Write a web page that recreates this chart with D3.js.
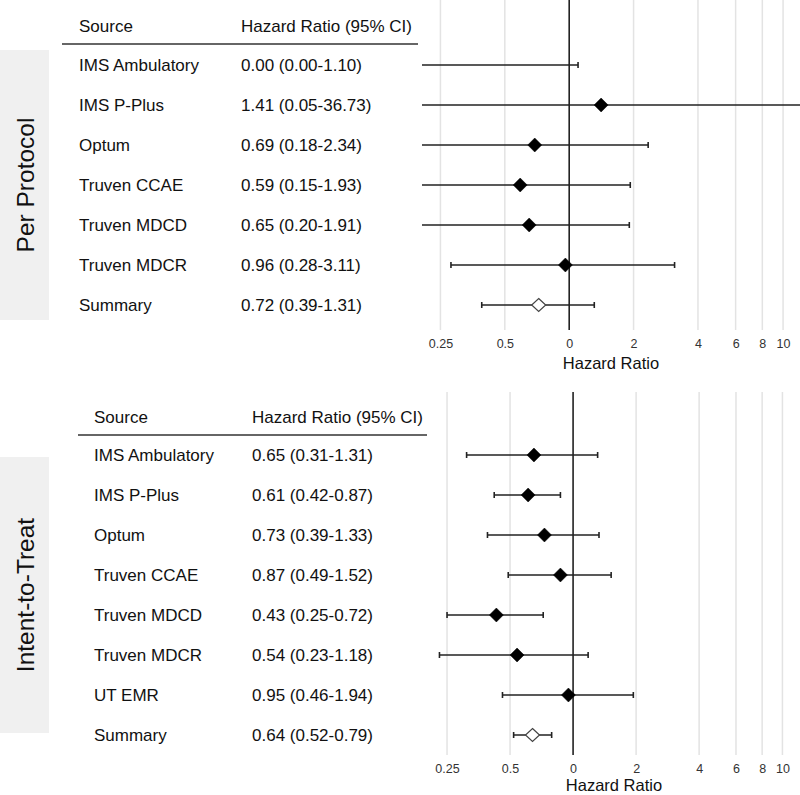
<!DOCTYPE html>
<html>
<head>
<meta charset="utf-8">
<script src="https://cdn.jsdelivr.net/npm/d3@7"></script>
<style>
  body { margin: 0; background: #fff; }
  svg { display: block; font-family: "Liberation Sans", Arial, sans-serif; }
</style>
</head>
<body>
<div id="chart"></div>
<script>
'use strict';

// Per Protocol
var ppSources = [ 'IMS Ambulatory', 'IMS P-Plus', 'Optum', 'Truven CCAE', 'Truven MDCD', 'Truven MDCR', 'Summary' ];
var ppHR = [ 0.00, 1.41, 0.69, 0.59, 0.65, 0.96, 0.72 ];
var ppLower = [ 0.00, 0.05, 0.18, 0.15, 0.20, 0.28, 0.39 ];
var ppUpper = [ 1.10, 36.73, 2.34, 1.93, 1.91, 3.11, 1.31 ];
var ppLabels = [ '0.00 (0.00-1.10)', '1.41 (0.05-36.73)', '0.69 (0.18-2.34)', '0.59 (0.15-1.93)',
                 '0.65 (0.20-1.91)', '0.96 (0.28-3.11)', '0.72 (0.39-1.31)' ];

// Intent-to-Treat
var ittSources = [ 'IMS Ambulatory', 'IMS P-Plus', 'Optum', 'Truven CCAE', 'Truven MDCD', 'Truven MDCR', 'UT EMR', 'Summary' ];
var ittHR = [ 0.65, 0.61, 0.73, 0.87, 0.43, 0.54, 0.95, 0.64 ];
var ittLower = [ 0.31, 0.42, 0.39, 0.49, 0.25, 0.23, 0.46, 0.52 ];
var ittUpper = [ 1.31, 0.87, 1.33, 1.52, 0.72, 1.18, 1.94, 0.79 ];
var ittLabels = [ '0.65 (0.31-1.31)', '0.61 (0.42-0.87)', '0.73 (0.39-1.33)', '0.87 (0.49-1.52)',
                  '0.43 (0.25-0.72)', '0.54 (0.23-1.18)', '0.95 (0.46-1.94)', '0.64 (0.52-0.79)' ];

// axis
var tickValues = [ 0.25, 0.5, 1, 2, 4, 6, 8, 10 ];
var tickLabels = [ '0.25', '0.5', '0', '2', '4', '6', '8', '10' ];
var xDomain = [ 0.205, 12 ];

var svg = d3.select( '#chart' )
  .append( 'svg' )
    .attr( 'width', 800 )
    .attr( 'height', 795 );

function drawPanel( o ) {
  var n = o.sources.length;
  var rows = o.sources.map( function( s, i ) {
    return { source: s, hr: o.hr[ i ], lo: o.lower[ i ], hi: o.upper[ i ],
             label: o.labels[ i ], summary: s === 'Summary' };
  } );

  var x = d3.scaleLog()
      .domain( xDomain )
      .range( [ o.plotLeft, o.plotRight ] );

  var y = d3.scalePoint()
      .domain( o.sources )
      .range( [ o.rowY0, o.rowY0 + 40 * ( n - 1 ) ] );

  var g = svg.append( 'g' );

  // side label box
  g.append( 'rect' )
      .attr( 'x', 0 )
      .attr( 'y', o.boxY )
      .attr( 'width', 49 )
      .attr( 'height', o.boxH )
      .attr( 'fill', '#f0f0f0' );

  g.append( 'text' )
      .attr( 'transform', 'translate(25,' + ( o.boxY + o.boxH / 2 ) + ') rotate(-90)' )
      .attr( 'text-anchor', 'middle' )
      .attr( 'dy', '0.35em' )
      .style( 'font-size', '24.5px' )
      .attr( 'fill', '#111' )
      .text( o.title );

  // gridlines
  g.selectAll( 'line.grid' )
      .data( tickValues.filter( function( d ) { return d !== 1; } ) )
    .enter().append( 'line' )
      .attr( 'class', 'grid' )
      .attr( 'x1', function( d ) { return x( d ); } )
      .attr( 'x2', function( d ) { return x( d ); } )
      .attr( 'y1', o.top )
      .attr( 'y2', o.gridBottom )
      .attr( 'stroke', '#e3e3e3' )
      .attr( 'stroke-width', 1.5 );

  // reference line at 1
  g.append( 'line' )
      .attr( 'x1', x( 1 ) )
      .attr( 'x2', x( 1 ) )
      .attr( 'y1', o.top )
      .attr( 'y2', o.gridBottom )
      .attr( 'stroke', '#222' )
      .attr( 'stroke-width', 1.6 );

  // axis labels
  var axis = d3.axisBottom( x )
      .tickValues( tickValues )
      .tickFormat( function( d, i ) { return tickLabels[ i ]; } )
      .tickSize( 0 )
      .tickPadding( 0 );

  var ax = g.append( 'g' )
      .attr( 'transform', 'translate(0,' + ( o.tickY - 6 ) + ')' )
      .call( axis );
  ax.select( '.domain' ).remove();
  ax.selectAll( 'text' )
      .style( 'font-size', '12.5px' )
      .style( 'font-family', '"Liberation Sans", Arial, sans-serif' )
      .attr( 'fill', '#333' );

  g.append( 'text' )
      .attr( 'x', ( o.plotLeft + o.plotRight ) / 2 )
      .attr( 'y', o.titleY )
      .attr( 'text-anchor', 'middle' )
      .attr( 'dy', '0.35em' )
      .style( 'font-size', '16.5px' )
      .attr( 'fill', '#111' )
      .text( 'Hazard Ratio' );

  // table header
  g.append( 'text' )
      .attr( 'x', o.sourceX )
      .attr( 'y', o.headerY )
      .attr( 'dy', '0.35em' )
      .style( 'font-size', '17px' )
      .attr( 'fill', '#111' )
      .text( 'Source' );
  g.append( 'text' )
      .attr( 'x', o.hrX )
      .attr( 'y', o.headerY )
      .attr( 'dy', '0.35em' )
      .style( 'font-size', '17px' )
      .attr( 'fill', '#111' )
      .text( 'Hazard Ratio (95% CI)' );
  g.append( 'line' )
      .attr( 'x1', o.lineX1 )
      .attr( 'x2', o.lineX2 )
      .attr( 'y1', o.lineY )
      .attr( 'y2', o.lineY )
      .attr( 'stroke', '#333' )
      .attr( 'stroke-width', 1.5 );

  // table rows
  g.selectAll( 'text.src' )
      .data( rows )
    .enter().append( 'text' )
      .attr( 'class', 'src' )
      .attr( 'x', o.sourceX )
      .attr( 'y', function( d ) { return y( d.source ); } )
      .attr( 'dy', '0.35em' )
      .style( 'font-size', '17px' )
      .attr( 'fill', '#111' )
      .text( function( d ) { return d.source; } );

  g.selectAll( 'text.hr' )
      .data( rows )
    .enter().append( 'text' )
      .attr( 'class', 'hr' )
      .attr( 'x', o.hrX )
      .attr( 'y', function( d ) { return y( d.source ); } )
      .attr( 'dy', '0.35em' )
      .style( 'font-size', '17px' )
      .attr( 'fill', '#111' )
      .text( function( d ) { return d.label; } );

  // confidence intervals
  function clampX( v ) {
    return x( Math.min( Math.max( v, xDomain[ 0 ] ), xDomain[ 1 ] ) );
  }

  g.selectAll( 'line.ci' )
      .data( rows )
    .enter().append( 'line' )
      .attr( 'class', 'ci' )
      .attr( 'x1', function( d ) { return clampX( d.lo ); } )
      .attr( 'x2', function( d ) { return clampX( d.hi ); } )
      .attr( 'y1', function( d ) { return y( d.source ); } )
      .attr( 'y2', function( d ) { return y( d.source ); } )
      .attr( 'stroke', '#222' )
      .attr( 'stroke-width', function( d ) { return d.summary ? 1.3 : 1.6; } );

  // end caps, only where the interval ends inside the plot
  var caps = [];
  rows.forEach( function( d ) {
    if ( d.lo > xDomain[ 0 ] ) caps.push( { v: d.lo, source: d.source } );
    if ( d.hi < xDomain[ 1 ] ) caps.push( { v: d.hi, source: d.source } );
  } );

  g.selectAll( 'line.cap' )
      .data( caps )
    .enter().append( 'line' )
      .attr( 'class', 'cap' )
      .attr( 'x1', function( d ) { return x( d.v ); } )
      .attr( 'x2', function( d ) { return x( d.v ); } )
      .attr( 'y1', function( d ) { return y( d.source ) - 3; } )
      .attr( 'y2', function( d ) { return y( d.source ) + 3; } )
      .attr( 'stroke', '#222' )
      .attr( 'stroke-width', 1.6 );

  // point estimates
  var diamond = 'M0,-7L7,0L0,7L-7,0Z';
  var small = 'M0,-6.5L7,0L0,6.5L-7,0Z';

  g.selectAll( 'path.est' )
      .data( rows.filter( function( d ) { return d.hr > 0; } ) )
    .enter().append( 'path' )
      .attr( 'class', 'est' )
      .attr( 'transform', function( d ) {
        return 'translate(' + x( d.hr ) + ',' + y( d.source ) + ')';
      } )
      .attr( 'd', function( d ) { return d.summary ? small : diamond; } )
      .attr( 'fill', function( d ) { return d.summary ? '#fff' : '#000'; } )
      .attr( 'stroke', function( d ) { return d.summary ? '#444' : '#000'; } )
      .attr( 'stroke-width', function( d ) { return d.summary ? 1.2 : 0.5; } );
}

drawPanel( {
  title: 'Per Protocol',
  sources: ppSources, hr: ppHR, lower: ppLower, upper: ppUpper, labels: ppLabels,
  top: 0, rowY0: 65, plotLeft: 422, plotRight: 800, gridBottom: 330,
  sourceX: 79, hrX: 241, headerY: 26, lineY: 44, lineX1: 62, lineX2: 418,
  boxY: 50, boxH: 270, tickY: 345, titleY: 363
} );

drawPanel( {
  title: 'Intent-to-Treat',
  sources: ittSources, hr: ittHR, lower: ittLower, upper: ittUpper, labels: ittLabels,
  top: 392, rowY0: 455, plotLeft: 429, plotRight: 799, gridBottom: 755,
  sourceX: 94, hrX: 252, headerY: 417, lineY: 435, lineX1: 78, lineX2: 427,
  boxY: 457, boxH: 276, tickY: 770, titleY: 785
} );
</script>
</body>
</html>
